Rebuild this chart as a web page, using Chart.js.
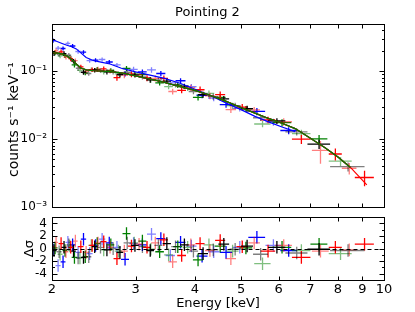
<!DOCTYPE html>
<html>
<head>
<meta charset="utf-8">
<script src="https://cdn.jsdelivr.net/npm/chart.js@4.4.0/dist/chart.umd.min.js"></script>
<style>
body { margin: 0; background: #fff; }
#wrap { position: relative; width: 415px; height: 312px; }
#top { position: absolute; left: 0; top: 0; }
#bot { position: absolute; left: 0; top: 205px; }
</style>
</head>
<body>
<div id="wrap">
  <canvas id="top" width="415" height="219" style="width:415px;height:219px"></canvas>
  <canvas id="bot" width="415" height="107" style="width:415px;height:107px"></canvas>
</div>
<script>
// spectra: bin centre, half width, flux, flux error, residual (sigma)
var blackE   = [2.02,2.07,2.12,2.17,2.22,2.27,2.33,2.39,2.46,2.53,2.61,2.69,2.78,2.88,2.99,3.10,3.22,3.35,3.49,3.64,3.80,3.97,4.16,4.37,4.60,4.86,5.15,5.50,5.95,6.55,7.30,8.40];
var blackDE  = [0.025,0.025,0.025,0.025,0.025,0.025,0.03,0.03,0.035,0.035,0.04,0.04,0.045,0.05,0.055,0.055,0.06,0.065,0.07,0.075,0.08,0.09,0.1,0.11,0.12,0.13,0.15,0.2,0.25,0.35,0.4,0.7];
var blackF   = [0.182,0.176,0.181,0.171,0.140,0.110,0.096,0.092,0.103,0.102,0.097,0.097,0.089,0.096,0.088,0.082,0.074,0.074,0.071,0.063,0.060,0.050,0.045,0.042,0.039,0.031,0.028,0.0205,0.0184,0.0127,0.0084,0.0039];
var blackErr = [0.015,0.014,0.014,0.014,0.011,0.009,0.008,0.007,0.008,0.008,0.008,0.008,0.008,0.009,0.008,0.007,0.007,0.007,0.006,0.006,0.005,0.0045,0.0045,0.0042,0.0039,0.0031,0.0028,0.0021,0.0018,0.0015,0.0013,0.0006];
var blackRes = [-0.3,-0.5,0.2,0.6,-0.4,-1.5,-1.4,-1.3,0.3,0.2,-0.2,0.0,-0.6,0.9,0.5,0.3,-0.3,0.5,0.8,0.3,0.6,-0.4,-0.8,-0.2,0.7,-0.1,0.4,-0.9,0.2,-0.7,-0.1,-0.3];

var redE   = [2.00,2.04,2.09,2.14,2.19,2.24,2.30,2.36,2.43,2.50,2.57,2.65,2.74,2.84,2.94,3.05,3.17,3.30,3.44,3.59,3.75,3.92,4.10,4.30,4.52,4.76,5.03,5.33,5.70,6.15,6.70,7.35,7.90,8.45,9.10];
var redDE  = [0.02,0.02,0.025,0.025,0.025,0.025,0.03,0.03,0.035,0.035,0.035,0.04,0.045,0.05,0.05,0.055,0.06,0.065,0.07,0.075,0.08,0.085,0.09,0.1,0.11,0.12,0.14,0.15,0.2,0.25,0.3,0.3,0.25,0.3,0.42];
var redF   = [0.190,0.199,0.192,0.161,0.152,0.142,0.115,0.099,0.105,0.107,0.108,0.100,0.080,0.087,0.090,0.088,0.079,0.078,0.078,0.050,0.052,0.057,0.053,0.043,0.045,0.027,0.0294,0.0267,0.0191,0.0179,0.0099,0.0068,0.0060,0.0037,0.0027];
var redErr = [0.015,0.016,0.015,0.013,0.012,0.011,0.009,0.008,0.008,0.009,0.009,0.008,0.008,0.009,0.009,0.009,0.008,0.008,0.008,0.005,0.005,0.006,0.006,0.0047,0.005,0.003,0.0032,0.0029,0.0021,0.0023,0.0015,0.0025,0.0012,0.0007,0.0007];
var redRes = [0.3,1.0,0.8,-0.5,0.2,1.2,0.3,-0.6,0.5,0.9,1.1,0.2,-1.6,-0.4,0.4,0.7,0.2,0.9,1.4,-2.1,-1.1,0.6,0.8,-0.3,1.3,-1.6,0.3,0.9,-0.4,0.5,-1.4,-0.4,0.2,-0.2,0.7];

var greenE   = [2.03,2.08,2.13,2.18,2.23,2.29,2.35,2.42,2.49,2.57,2.66,2.76,2.87,2.98,3.10,3.23,3.37,3.52,3.68,3.86,4.06,4.28,4.52,4.80,5.12,5.55,6.10,6.70,7.30,8.10];
var greenDE  = [0.025,0.025,0.025,0.025,0.03,0.03,0.03,0.035,0.035,0.04,0.045,0.05,0.055,0.055,0.06,0.065,0.07,0.075,0.08,0.09,0.1,0.11,0.12,0.14,0.16,0.22,0.28,0.3,0.3,0.45];
var greenF   = [0.186,0.168,0.170,0.161,0.123,0.102,0.094,0.105,0.106,0.097,0.102,0.091,0.109,0.092,0.089,0.074,0.067,0.059,0.062,0.056,0.041,0.047,0.041,0.031,0.0278,0.0166,0.0174,0.0120,0.0100,0.0047];
var greenErr = [0.015,0.013,0.014,0.013,0.010,0.008,0.0075,0.008,0.0085,0.0078,0.0082,0.0073,0.0098,0.0083,0.008,0.0067,0.006,0.0053,0.0056,0.005,0.0041,0.0047,0.0041,0.0031,0.0028,0.0017,0.0021,0.0017,0.0014,0.0007];
var greenRes = [0.1,-0.9,-0.3,0.4,-1.4,-1.5,-1.3,0.5,0.8,-0.2,0.6,-0.4,2.4,0.9,1.2,-0.1,-0.5,-1.0,0.3,0.2,-1.8,0.6,0.4,-0.4,0.1,-2.4,0.2,-0.3,0.7,-0.8];

var blueE   = [2.01,2.06,2.11,2.16,2.21,2.27,2.33,2.40,2.47,2.55,2.64,2.74,2.85,2.97,3.10,3.24,3.39,3.55,3.73,3.93,4.14,4.38,4.65,4.97,5.40,5.85,6.30];
var blueDE  = [0.025,0.025,0.025,0.025,0.03,0.03,0.03,0.035,0.035,0.04,0.045,0.05,0.055,0.06,0.065,0.07,0.075,0.08,0.09,0.1,0.11,0.12,0.14,0.17,0.22,0.22,0.25];
var blueF   = [0.282,0.218,0.215,0.255,0.234,0.194,0.190,0.142,0.145,0.148,0.136,0.123,0.091,0.106,0.097,0.104,0.092,0.067,0.072,0.059,0.044,0.040,0.032,0.0281,0.0255,0.0178,0.0133];
var blueErr = [0.020,0.015,0.015,0.018,0.016,0.014,0.013,0.010,0.010,0.010,0.0095,0.0086,0.0082,0.0095,0.0087,0.0094,0.0083,0.006,0.0065,0.0053,0.0044,0.004,0.0032,0.0028,0.0031,0.0021,0.0016];
var blueRes = [-0.2,-2.7,-2.1,1.0,0.6,-0.6,1.5,-0.8,0.5,1.5,0.9,0.2,-1.7,0.8,0.6,2.3,1.6,-1.1,1.0,0.4,-1.2,-0.5,-0.6,0.2,1.8,0.5,-0.3];

// folded models
var modelE = [2.00,2.05,2.10,2.15,2.20,2.25,2.30,2.36,2.45,2.55,2.65,2.80,3.00,3.20,3.45,3.72,4.00,4.30,4.60,5.00,5.35,5.75,6.10,6.50,7.00,7.50,8.00,8.50,9.20];
var modelK = [0.186,0.184,0.179,0.167,0.148,0.127,0.111,0.104,0.101,0.100,0.098,0.094,0.085,0.077,0.068,0.059,0.052,0.044,0.037,0.029,0.024,0.0197,0.0170,0.0142,0.0102,0.0075,0.0054,0.0038,0.0021];
var blueModelE = [2.00,2.05,2.10,2.15,2.20,2.25,2.30,2.36,2.45,2.55,2.65,2.80,3.00,3.20,3.45,3.72,4.00,4.30,4.60,5.00,5.35,5.75,6.10,6.50];
var blueModelF = [0.290,0.272,0.255,0.240,0.228,0.212,0.185,0.158,0.142,0.134,0.127,0.110,0.097,0.088,0.078,0.066,0.054,0.044,0.035,0.027,0.0215,0.0175,0.0150,0.0128];

// axes
var xTicks = [2,3,4,5,6,7,8,9,10];
var yTopTicks = [0.001,0.01,0.1];
var yTopLabels = ['10\u207B\u00B3','10\u207B\u00B2','10\u207B\u00B9'];
var yResTicks = [-4,-2,0,2,4];

Chart.defaults.font.family = 'DejaVu Sans';
Chart.defaults.color = '#000';

var yTopMinor = [];
[0.001,0.01,0.1].forEach(function(d){
  for (var k = 2; k <= 9; k++) if (k * d <= 0.5) yTopMinor.push(k * d);
});

function pts(xs, ys) {
  return xs.map(function(x, i){ return {x: x, y: ys[i]}; });
}
function ones(a) { return a.map(function(){ return 1; }); }

function tint(rgb, i) { return 'rgba(' + rgb + ',' + (i % 2 ? 0.5 : 1) + ')'; }

var crosses = {
  id: 'crosses',
  beforeDatasetsDraw: function(chart) {
    var ctx = chart.ctx, xs = chart.scales.x, ys = chart.scales.y, a = chart.chartArea;
    ctx.save();
    ctx.beginPath();
    ctx.rect(a.left, a.top, a.right - a.left, a.bottom - a.top);
    ctx.clip();
    ctx.lineWidth = 1.3;
    chart.data.datasets.forEach(function(ds) {
      if (!ds.xerr) return;
      ds.data.forEach(function(p, i) {
        var x = xs.getPixelForValue(p.x), y = ys.getPixelForValue(p.y);
        var x0 = xs.getPixelForValue(p.x - ds.xerr[i]), x1 = xs.getPixelForValue(p.x + ds.xerr[i]);
        var y0 = ys.getPixelForValue(p.y - ds.yerr[i]), y1 = ys.getPixelForValue(p.y + ds.yerr[i]);
        ctx.strokeStyle = tint(ds.rgb, i);
        ctx.beginPath();
        ctx.moveTo(x0, y); ctx.lineTo(x1, y);
        ctx.moveTo(x, y0); ctx.lineTo(x, y1);
        ctx.stroke();
      });
    });
    ctx.restore();
  }
};

var frame = {
  id: 'frame',
  afterDraw: function(chart, args, opts) {
    var ctx = chart.ctx, a = chart.chartArea, xs = chart.scales.x, ys = chart.scales.y;
    var L = Math.round(a.left) + 0.5, R = Math.round(a.right) + 0.5;
    var T = Math.round(a.top) + 0.5, B = Math.round(a.bottom) + 0.5;
    ctx.save();
    if (opts.zero) {
      var zy = Math.round(ys.getPixelForValue(0)) + 0.5;
      ctx.strokeStyle = '#000'; ctx.lineWidth = 1.2;
      ctx.setLineDash([4, 3]);
      ctx.beginPath(); ctx.moveTo(L, zy); ctx.lineTo(R, zy); ctx.stroke();
      ctx.setLineDash([]);
    }
    ctx.strokeStyle = '#000'; ctx.lineWidth = 1;
    ctx.beginPath();
    xTicks.forEach(function(v) {
      var px = Math.round(xs.getPixelForValue(v)) + 0.5;
      ctx.moveTo(px, B); ctx.lineTo(px, B - 4);
      ctx.moveTo(px, T); ctx.lineTo(px, T + 4);
    });
    function yt(v, len) {
      var py = Math.round(ys.getPixelForValue(v)) + 0.5;
      ctx.moveTo(L, py); ctx.lineTo(L + len, py);
      ctx.moveTo(R, py); ctx.lineTo(R - len, py);
    }
    opts.major.forEach(function(v){ yt(v, 5); });
    opts.minor.forEach(function(v){ yt(v, 2.5); });
    ctx.stroke();
    ctx.strokeRect(L, T, R - L, B - T);
    ctx.restore();
  }
};

function spec(E, DE, F, ERR, rgb) {
  return {type: 'scatter', data: pts(E, F), xerr: DE, yerr: ERR, rgb: rgb, pointRadius: 0};
}
function resid(E, DE, RES, rgb) {
  return {type: 'scatter', data: pts(E, RES), xerr: DE, yerr: ones(RES), rgb: rgb, pointRadius: 0};
}
function model(E, F, color) {
  return {type: 'scatter', data: pts(E, F), showLine: true, borderColor: color,
          borderWidth: 1.2, pointRadius: 0, tension: 0};
}

var noGrid = {display: false, drawTicks: false};

new Chart(document.getElementById('top'), {
  type: 'scatter',
  data: {
    datasets: [
      model(modelE.slice(0, 28), modelK.slice(0, 28), '#008000'),
      model(modelE, modelK, '#ff0000'),
      model(modelE.slice(0, 28), modelK.slice(0, 28), '#000000'),
      model(blueModelE, blueModelF, '#0000ff'),
      spec(blueE, blueDE, blueF, blueErr, '0,0,255'),
      spec(greenE, greenDE, greenF, greenErr, '0,128,0'),
      spec(redE, redDE, redF, redErr, '255,0,0'),
      spec(blackE, blackDE, blackF, blackErr, '0,0,0')
    ]
  },
  options: {
    responsive: false, animation: false, events: [],
    layout: {padding: 0},
    plugins: {
      legend: {display: false}, tooltip: {enabled: false},
      title: {display: true, text: 'Pointing 2', color: '#000',
              font: {size: 13, weight: 'normal'}, padding: {top: 5, bottom: 3}},
      frame: {major: yTopTicks, minor: yTopMinor}
    },
    scales: {
      x: {type: 'logarithmic', min: 2, max: 10,
          grid: noGrid, border: {display: false}, ticks: {display: false},
          afterFit: function(s){ s.height = 12; }},
      y: {type: 'logarithmic', min: 0.001, max: 0.5,
          grid: noGrid, border: {display: false},
          afterBuildTicks: function(s){ s.ticks = yTopTicks.map(function(v){ return {value: v}; }); },
          ticks: {font: {size: 12}, padding: 5, autoSkip: false,
                  callback: function(v, i){ return yTopLabels[i]; }},
          title: {display: true, text: 'counts s\u207B\u00B9 keV\u207B\u00B9  ',
                  font: {size: 14}, padding: {top: 6, bottom: 0}},
          afterFit: function(s){ s.width = 52; }},
      yRight: {position: 'right', grid: noGrid, border: {display: false}, ticks: {display: false},
               afterFit: function(s){ s.width = 31; }}
    }
  },
  plugins: [crosses, frame]
});

new Chart(document.getElementById('bot'), {
  type: 'scatter',
  data: {
    datasets: [
      resid(blueE, blueDE, blueRes, '0,0,255'),
      resid(greenE, greenDE, greenRes, '0,128,0'),
      resid(redE, redDE, redRes, '255,0,0'),
      resid(blackE, blackDE, blackRes, '0,0,0')
    ]
  },
  options: {
    responsive: false, animation: false, events: [],
    layout: {padding: {left: 0, right: 31, top: 0, bottom: 0}},
    plugins: {
      legend: {display: false}, tooltip: {enabled: false},
      frame: {major: yResTicks, minor: [-3, -1, 1, 3], zero: true}
    },
    scales: {
      x: {type: 'logarithmic', min: 2, max: 10,
          grid: noGrid, border: {display: false},
          afterBuildTicks: function(s){ s.ticks = xTicks.map(function(v){ return {value: v}; }); },
          ticks: {font: {size: 13}, padding: 2, autoSkip: false, maxRotation: 0,
                  callback: function(v){ return String(v); }},
          title: {display: true, text: 'Energy [keV]', font: {size: 13}, padding: {top: 0, bottom: 1}},
          afterFit: function(s){ s.height = 32; }},
      y: {min: -5, max: 5, grid: noGrid, border: {display: false},
          afterBuildTicks: function(s){ s.ticks = yResTicks.map(function(v){ return {value: v}; }); },
          ticks: {font: {size: 12}, padding: 5, autoSkip: false,
                  callback: function(v){ return String(v); }},
          title: {display: true, text: '\u0394\u03C3', font: {size: 13}, padding: {top: 22, bottom: 0}},
          afterFit: function(s){ s.width = 52; }}
    }
  },
  plugins: [crosses, frame]
});
</script>
</body>
</html>
